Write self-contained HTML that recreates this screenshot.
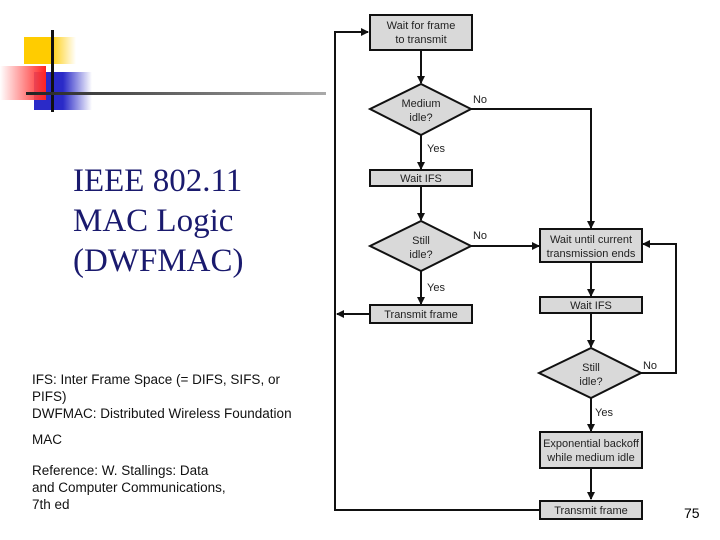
<!DOCTYPE html>
<html><head><style>
body{margin:0;width:720px;height:540px;background:#fff;position:relative;overflow:hidden;font-family:"Liberation Sans",sans-serif}
.t{position:absolute;font-family:"Liberation Serif",serif;font-size:33px;color:#1a1a6e;left:73px;line-height:40px}
.s{position:absolute;left:32px;font-size:13.5px;color:#111;line-height:17px}
</style></head><body>
<div style="position:absolute;left:24px;top:37px;width:52px;height:27px;background:linear-gradient(90deg,#fc0 50%,#fff)"></div>
<div style="position:absolute;left:34px;top:72px;width:58px;height:38px;background:linear-gradient(90deg,#2a2ac8 50%,#fff)"></div>
<div style="position:absolute;left:0;top:66px;width:46px;height:34px;background:linear-gradient(90deg,rgba(255,255,255,.6),#f22)"></div>
<div style="position:absolute;left:51px;top:30px;width:3px;height:82px;background:#111"></div>
<div style="position:absolute;left:26px;top:92px;width:300px;height:3px;background:linear-gradient(90deg,#222,#aaa)"></div>
<div class="t" style="top:161px">IEEE 802.11<br>MAC Logic<br>(DWFMAC)</div>
<div class="s" style="top:371px">IFS: Inter Frame Space (= DIFS, SIFS, or<br>PIFS)<br>DWFMAC: Distributed Wireless Foundation</div>
<div class="s" style="top:431px">MAC</div>
<div class="s" style="top:462px">Reference: W. Stallings: Data<br>and Computer Communications,<br>7th ed</div>
<div style="position:absolute;left:684px;top:505px;font-size:14px">75</div>
<svg width="720" height="540" style="position:absolute;left:0;top:0" font-family="Liberation Sans, sans-serif" font-size="11" text-anchor="middle">
<defs><marker id="a" markerWidth="8" markerHeight="8" refX="7" refY="4" orient="auto" markerUnits="userSpaceOnUse"><path d="M0,0L8,4L0,8z" fill="#111"/></marker></defs>
<g stroke="#111" stroke-width="2" fill="none">
<path d="M540,510H335V32H368" marker-end="url(#a)"/>
<path d="M370,314H337" marker-end="url(#a)"/>
<path d="M421,50V83" marker-end="url(#a)"/>
<path d="M421,135V169" marker-end="url(#a)"/>
<path d="M421,186V220" marker-end="url(#a)"/>
<path d="M421,271V304" marker-end="url(#a)"/>
<path d="M471,109H591V228" marker-end="url(#a)"/>
<path d="M471,246H539" marker-end="url(#a)"/>
<path d="M591,262V296" marker-end="url(#a)"/>
<path d="M591,313V347" marker-end="url(#a)"/>
<path d="M641,373H676V244H643" marker-end="url(#a)"/>
<path d="M591,398V431" marker-end="url(#a)"/>
<path d="M591,468V499" marker-end="url(#a)"/>
</g>
<g fill="#d9d9d9" stroke="#111" stroke-width="2">
<rect x="370" y="15" width="102" height="35"/>
<path d="M370,109L421,84L471,109L421,135z"/>
<rect x="370" y="170" width="102" height="16"/>
<path d="M370,246L421,221L471,246L421,271z"/>
<rect x="370" y="305" width="102" height="18"/>
<rect x="540" y="229" width="102" height="33"/>
<rect x="540" y="297" width="102" height="16"/>
<path d="M539,373L591,348L641,373L591,398z"/>
<rect x="540" y="432" width="102" height="36"/>
<rect x="540" y="501" width="102" height="18"/>
</g>
<g fill="#222">
<text x="421" y="29">Wait for frame</text><text x="421" y="43">to transmit</text>
<text x="421" y="107">Medium</text><text x="421" y="121">idle?</text>
<text x="421" y="182">Wait IFS</text>
<text x="421" y="244">Still</text><text x="421" y="258">idle?</text>
<text x="421" y="318">Transmit frame</text>
<text x="591" y="243">Wait until current</text><text x="591" y="257">transmission ends</text>
<text x="591" y="309">Wait IFS</text>
<text x="591" y="371">Still</text><text x="591" y="385">idle?</text>
<text x="591" y="447">Exponential backoff</text><text x="591" y="461">while medium idle</text>
<text x="591" y="514">Transmit frame</text>
<text x="480" y="103">No</text><text x="436" y="152">Yes</text>
<text x="480" y="239">No</text><text x="436" y="291">Yes</text>
<text x="650" y="369">No</text><text x="604" y="416">Yes</text>
</g>
</svg>
</body></html>
